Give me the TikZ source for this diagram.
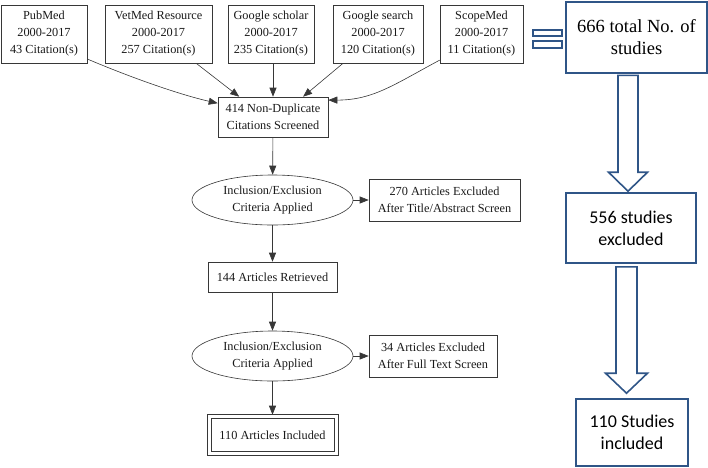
\documentclass[tikz,border=0pt]{standalone}
\usepackage{fontspec}
\setmainfont{Liberation Serif}
\newfontfamily\calibrifont{Carlito}
\usetikzlibrary{shapes.geometric,arrows.meta,calc}
\definecolor{boxblue}{RGB}{47,85,135}
\definecolor{linegray}{RGB}{55,55,55}

\begin{document}
\begin{tikzpicture}[x=1pt, y=-1pt,
  every node/.style={align=center, inner sep=0pt, text=black!90, font=\fontsize{12.3}{17}\selectfont},
  srcbox/.style={rectangle, draw=linegray, line width=0.6pt, minimum height=58},
  stepbox/.style={rectangle, draw=linegray, line width=0.6pt},
  critnode/.style={ellipse, draw=linegray, line width=0.6pt, minimum width=161, minimum height=50},
  sumbox/.style={rectangle, draw=boxblue, line width=1.6pt, fill=white, text=black},
  edge/.style={draw=linegray, line width=0.6pt, -{Triangle[length=9pt,width=7pt]}},
  bigarrow/.style={draw=boxblue, line width=1.6pt, fill=white, line join=miter}]
\useasboundingbox (0,0) rectangle (708,467);

% sources
\node[srcbox, minimum width=86] (pubmed) at (44,34) {PubMed\\2000-2017\\43 Citation(s)};
\node[srcbox, minimum width=107] (vetmed) at (158.5,34) {VetMed Resource\\2000-2017\\257 Citation(s)};
\node[srcbox, minimum width=86] (scholar) at (271,34) {Google scholar\\2000-2017\\235 Citation(s)};
\node[srcbox, minimum width=90] (search) at (378,34) {Google search\\2000-2017\\120 Citation(s)};
\node[srcbox, minimum width=83] (scopemed) at (481.5,34) {ScopeMed\\2000-2017\\11 Citation(s)};

% screening steps
\node[stepbox, minimum width=110, minimum height=40] (screen) at (273,117) {414 Non-Duplicate\\Citations Screened};
\node[critnode] (crit1) at (272.5,200) {Inclusion/Exclusion\\Criteria Applied};
\node[stepbox, minimum width=151, minimum height=42] (excl1) at (444.5,200) {270 Articles Excluded\\After Title/Abstract Screen};
\node[stepbox, minimum width=129, minimum height=30] (retr) at (272.5,277) {144 Articles Retrieved};
\node[critnode] (crit2) at (272.5,356) {Inclusion/Exclusion\\Criteria Applied};
\node[stepbox, minimum width=123, minimum height=33] (incl) at (272.5,435) {110 Articles Included};
\draw[linegray, line width=0.6pt] ($(incl.north west)+(-3.5,-3.5)$) rectangle ($(incl.south east)+(3.5,3.5)$);
\node[stepbox, minimum width=128, minimum height=42] (excl2) at (433,356) {34 Articles Excluded\\After Full Text Screen};

\draw[edge] (pubmed.-30) .. controls +(40,17) and +(-40,-9) .. (screen.166);
\draw[edge] (vetmed) -- (screen.149);
\draw[edge] (scholar.south -| screen.north) -- (screen.north);
\draw[edge] (search) -- (screen.34);
\draw[edge] (scopemed.212) .. controls +(-45,24) and +(45,0) .. (screen.17);
\draw[edge] (screen) -- (crit1);
\draw[edge] (crit1) -- (excl1);
\draw[edge] (crit1) -- (retr);
\draw[edge] (retr) -- (crit2);
\draw[edge] (crit2) -- (excl2);
\draw[edge, shorten >=3.5pt] (crit2) -- (incl);

% summary column
\node[sumbox, minimum width=141, minimum height=71, font=\fontsize{18.5}{22}\selectfont] (total) at (636.5,37.5) {666 total No. of\\studies};
\node[sumbox, minimum width=130, minimum height=70, font=\calibrifont\fontsize{18}{22}\selectfont] (sexcl) at (631,228) {556 studies\\excluded};
\node[sumbox, minimum width=112, minimum height=67, font=\calibrifont\fontsize{18}{22}\selectfont] (sincl) at (632,432.5) {110 Studies\\included};

\draw[bigarrow, line width=1.3pt] (533,30) rectangle (562,36);
\draw[bigarrow, line width=1.3pt] (533,41) rectangle (562,48);

\coordinate (a1) at ($(total.south)+(-8.5,1.5)$);
\coordinate (a1tip) at ($(a1 |- sexcl.north)+(0,-1)$);
\draw[bigarrow] ($(a1)+(-10,0)$) -- ($(a1tip)+(-10,-19)$) -- ($(a1tip)+(-19.5,-19)$) -- (a1tip)
  -- ($(a1tip)+(19.5,-19)$) -- ($(a1tip)+(10,-19)$) -- ($(a1)+(10,0)$) -- cycle;

\coordinate (a2) at ($(sexcl.south)+(-4.5,3)$);
\coordinate (a2tip) at ($(a2 |- sincl.north)+(0,-5)$);
\draw[bigarrow] ($(a2)+(-10.5,0)$) -- ($(a2tip)+(-10.5,-20)$) -- ($(a2tip)+(-21,-20)$) -- (a2tip)
  -- ($(a2tip)+(21,-20)$) -- ($(a2tip)+(10.5,-20)$) -- ($(a2)+(10.5,0)$) -- cycle;
\end{tikzpicture}
\end{document}
